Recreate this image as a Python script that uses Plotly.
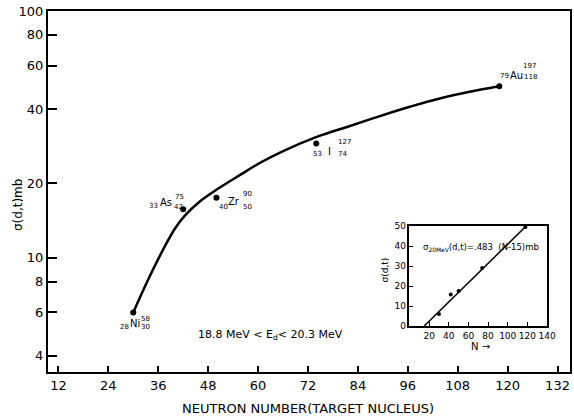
import math
import plotly.graph_objects as go

# ---- data ----
nuclide_n = [30, 42, 50, 74, 118]
nuclide_sigma = [6.0, 15.7, 17.5, 29.0, 49.5]
nuclide_symbol = ["Ni", "As", "Zr", "I", "Au"]
nuclide_z = ["28", "33", "40", "53", "79"]
nuclide_a = ["58", "75", "90", "127", "197"]
nuclide_nn = ["30", "42", "50", "74", "118"]

curve_n = [30, 33.2, 37.2, 40.0, 42.4, 46.0, 49.9, 55.6, 60.4, 65.9, 74.1, 82.1,
           89.3, 96.5, 103.7, 113.3, 118]
curve_sigma = [6.0, 7.9, 10.8, 13.1, 14.8, 16.9, 18.8, 21.6, 24.2, 27.0, 30.9, 34.2,
               37.5, 40.9, 44.2, 47.9, 49.5]

fit_n = [15, 118]
fit_sigma = [0, 49.6]

x_ticks = [12, 24, 36, 48, 60, 72, 84, 96, 108, 120, 132]
y_ticks = [4, 6, 8, 10, 20, 40, 60, 80, 100]
inset_x_ticks = [20, 40, 60, 80, 100, 120, 140]
inset_y_ticks = [0, 10, 20, 30, 40, 50]

FONT = "DejaVu Sans"

fig = go.Figure()

fig.add_trace(go.Scatter(x=curve_n, y=curve_sigma, mode="lines",
                         line=dict(color="black", width=2.5, shape="spline", smoothing=1.0),
                         hoverinfo="skip", showlegend=False))
fig.add_trace(go.Scatter(x=nuclide_n, y=nuclide_sigma, mode="markers",
                         marker=dict(color="black", size=6),
                         showlegend=False))

# inset
fig.add_trace(go.Scatter(x=fit_n, y=fit_sigma, mode="lines", xaxis="x2", yaxis="y2",
                         line=dict(color="black", width=1.5), showlegend=False))
fig.add_trace(go.Scatter(x=nuclide_n, y=nuclide_sigma, mode="markers", xaxis="x2", yaxis="y2",
                         marker=dict(color="black", size=4), showlegend=False))

# label offsets (pixels) for symbol, Z, A, N relative to each point
label_offsets = {
    "Ni": dict(sym=(2, -11), z=(-9, -15), a=(12, -7), n=(12, -15)),
    "As": dict(sym=(-17, 7), z=(-30, 3), a=(-4, 12), n=(-5, 2)),
    "Zr": dict(sym=(18, -4), z=(7, -9), a=(31, 4), n=(31, -9)),
    "I": dict(sym=(13, -8), z=(1, -10), a=(28, 2), n=(26, -10)),
    "Au": dict(sym=(17, 11), z=(5, 10), a=(30, 20), n=(31, 9)),
}

ann = []
for n, s, sym, z, a, nn in zip(nuclide_n, nuclide_sigma, nuclide_symbol,
                               nuclide_z, nuclide_a, nuclide_nn):
    off = label_offsets[sym]
    for key, txt, size in (("sym", sym, 10), ("z", z, 7), ("a", a, 7), ("n", nn, 7)):
        dx, dy = off[key]
        ann.append(dict(x=n, y=math.log10(s), xref="x", yref="y", text=txt,
                        showarrow=False, xshift=dx, yshift=dy,
                        font=dict(family=FONT, size=size, color="black"),
                        xanchor="center", yanchor="middle"))

ann.append(dict(x=0.4262, y=0.1025, xref="paper", yref="paper",
                text="18.8 MeV &lt; E<sub>d</sub>&lt; 20.3 MeV", showarrow=False,
                xanchor="center", yanchor="middle",
                font=dict(family=FONT, size=11, color="black")))
ann.append(dict(x=0.498, y=0, xref="paper", yref="paper", yshift=-36,
                text="NEUTRON NUMBER(TARGET NUCLEUS)", showarrow=False,
                xanchor="center", yanchor="middle",
                font=dict(family=FONT, size=13, color="black")))
ann.append(dict(x=0, y=0.4626, xref="paper", yref="paper", xshift=-30,
                text="σ(d,t)mb", textangle=-90, showarrow=False,
                xanchor="center", yanchor="middle",
                font=dict(family=FONT, size=12, color="black")))
# inset texts
ann.append(dict(x=0.714, y=0.346, xref="paper", yref="paper",
                text="σ<sub>20MeV</sub>(d,t)=.483  (N-15)mb", showarrow=False,
                xanchor="left", yanchor="middle",
                font=dict(family=FONT, size=8.5, color="black")))
ann.append(dict(x=0.6925, y=0.2825, xref="paper", yref="paper", xshift=-24,
                text="σ(d,t)", textangle=-90, showarrow=False,
                xanchor="center", yanchor="middle",
                font=dict(family=FONT, size=9, color="black")))
ann.append(dict(x=0.8295, y=0.0748, xref="paper", yref="paper", yshift=-2,
                text="N →", showarrow=False,
                xanchor="center", yanchor="middle",
                font=dict(family=FONT, size=10, color="black")))

fig.update_layout(
    width=574, height=419,
    margin=dict(l=48, r=4, t=11, b=47, autoexpand=False),
    paper_bgcolor="white", plot_bgcolor="white",
    annotations=ann,
    xaxis=dict(range=[9.5, 135], tickvals=x_ticks, ticks="inside", ticklen=6, tickwidth=1.5,
               tickcolor="black", showline=True, linecolor="black", linewidth=2, mirror=True,
               showgrid=False, zeroline=False, automargin=False,
               tickfont=dict(family=FONT, size=13, color="black")),
    yaxis=dict(type="log", range=[math.log10(3.44), 2.0], tickvals=y_ticks,
               ticktext=[str(v) for v in y_ticks],
               ticks="inside", ticklen=9, tickwidth=2, tickcolor="black",
               showline=True, linecolor="black", linewidth=2, mirror=True,
               showgrid=False, zeroline=False, automargin=False,
               tickfont=dict(family=FONT, size=13, color="black")),
    xaxis2=dict(domain=[0.6925, 0.956], anchor="y2", range=[0, 140], tickvals=inset_x_ticks,
                ticks="inside", ticklen=4, tickcolor="black", showline=True, linecolor="black",
                linewidth=1.5, mirror=True, showgrid=False, zeroline=False, automargin=False,
                tickfont=dict(family=FONT, size=9, color="black")),
    yaxis2=dict(domain=[0.1274, 0.4044], anchor="x2", range=[0, 50], tickvals=inset_y_ticks,
                ticks="inside", ticklen=4, tickcolor="black", showline=True, linecolor="black",
                linewidth=1.5, mirror=True, showgrid=False, zeroline=False, automargin=False,
                tickfont=dict(family=FONT, size=9, color="black")),
)

fig.write_html("out.html", config={"displayModeBar": False},
               post_script="document.body.style.margin='0';")
